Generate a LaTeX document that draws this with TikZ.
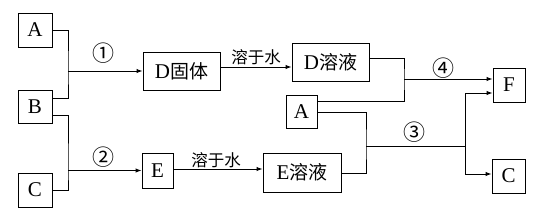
\documentclass[tikz,border=0pt]{standalone}
\usepackage{fontspec}
\setmainfont{Liberation Serif}
\newfontfamily\cjk{Noto Sans CJK SC}
\usetikzlibrary{arrows.meta}
\tikzset{
  box/.style={draw, line width=1pt, inner sep=0pt, font=\fontsize{21}{21}\selectfont},
  conn/.style={line width=1pt},
  arr/.style={line width=1pt, -{Latex[length=6pt,width=4.5pt]}},
  num/.style={font=\cjk\fontsize{22}{22}\selectfont, inner sep=0pt},
  lbl/.style={font=\cjk\fontsize{16.5}{16.5}\selectfont, inner sep=0pt}
}
\newcommand{\zh}[1]{{\cjk\fontsize{19}{19}\selectfont #1}}
\begin{document}
\begin{tikzpicture}[x=1pt,y=-1pt]
\useasboundingbox (0,0) rectangle (545,223);
% boxes
\node[box, minimum width=34pt, minimum height=34pt] (A1) at (35,30) {A};
\node[box, minimum width=34pt, minimum height=33pt] (B) at (35,106.5) {B};
\node[box, minimum width=34pt, minimum height=34pt] (C1) at (35,190) {C};
\node[box, minimum width=77pt, minimum height=38pt] (D1) at (181.5,71) {D\zh{固体}};
\node[box, minimum width=31pt, minimum height=35pt] (E1) at (157.5,170.5) {E};
\node[box, minimum width=77pt, minimum height=38pt] (D2) at (330.5,62) {D\zh{溶液}};
\node[box, minimum width=31pt, minimum height=33pt] (A2) at (301.5,111.5) {A};
\node[box, minimum width=78pt, minimum height=39pt] (E2) at (302,172.5) {E\zh{溶液}};
\node[box, minimum width=32pt, minimum height=34pt] (F) at (509,85) {F};
\node[box, minimum width=33pt, minimum height=34pt] (C2) at (508.5,176) {C};
% junctions
\coordinate (j1) at (68,71);
\coordinate (j2) at (68,170.5);
\coordinate (j4) at (404,79);
\coordinate (j3) at (366,146);
\coordinate (j5) at (465,146);
% connectors
\draw[conn] (A1.east) -| (j1) |- ([yshift=8.5pt]B.east);
\draw[arr] (j1) -- (D1.west);
\draw[conn] ([yshift=-8.5pt]B.east) -| (j2) |- (C1.east);
\draw[arr] (j2) -- (E1.west);
\draw[arr] (D1.east |- 0,67) -- (D2.west |- 0,67);
\draw[arr] (E1.east |- 0,169) -- (E2.west |- 0,169);
\draw[conn] (D2.east |- 0,58) -| (j4) |- (A2.east |- 0,101);
\draw[arr] (j4) -- (F.west |- j4);
\draw[conn] (A2.east |- 0,112) -| (j3) |- (E2.east |- 0,173);
\draw[conn] (j3) -- (j5);
\draw[arr] (j5) |- (F.west |- 0,93);
\draw[arr] (j5) |- (C2.west |- 0,174);
% labels
\node[num] (n1) at (103,53) {①};
\node[num] (n2) at (103,157) {②};
\node[num] (n3) at (414,132) {③};
\node[num] (n4) at (443,68) {④};
\node[lbl] (w1) at (256,57) {溶于水};
\node[lbl] (w2) at (216,160) {溶于水};
\end{tikzpicture}
\end{document}
